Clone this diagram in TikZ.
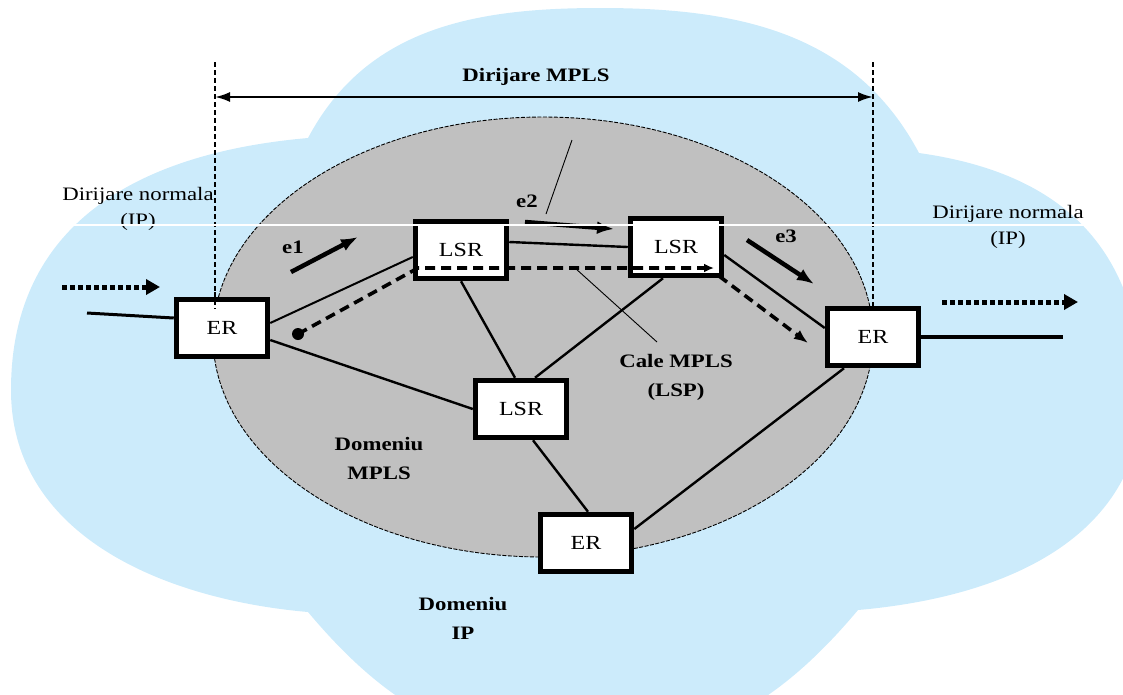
\documentclass[tikz,border=0pt]{standalone}
\usepackage{fontspec}
\setmainfont{Liberation Serif}[FakeStretch=1.2]
\usetikzlibrary{arrows.meta,calc}
\definecolor{cloudblue}{RGB}{204,235,251}
\definecolor{domgray}{RGB}{192,192,192}
\begin{document}
\begin{tikzpicture}[x=1pt,y=-1pt,
  router/.style={draw=black,line width=5.5pt,fill=white,minimum width=91pt,minimum height=57pt,inner sep=0pt,font=\fontsize{20}{22}\selectfont},
  link/.style={line width=2.4pt},
  thinlead/.style={line width=0.9pt},
  lsp/.style={line width=3.6pt,dash pattern=on 10pt off 6pt},
  flow/.style={line width=4.5pt,-{Latex[length=17pt,width=13pt]}},
  dotflow/.style={line width=5pt,dash pattern=on 5pt off 3pt,-{Triangle[length=14pt,width=15pt]}},
  guide/.style={line width=1.3pt,dash pattern=on 5pt off 3pt},
  lbl/.style={font=\fontsize{19}{29}\selectfont\bfseries,align=center},
  nlbl/.style={font=\fontsize{19}{26}\selectfont,align=center}]
\path[use as bounding box] (0,0) rectangle (1123,694);
\clip (0,0) rectangle (1123,694);
% cloud (Domeniu IP)
\fill[cloudblue] (308,138)
  to[out=62,in=180] (600,8)
  to[out=0,in=118] (919,153)
  to[out=-8,in=95,looseness=1.1] (1142,370)
  to[out=-85,in=5,looseness=1.1] (858,610)
  to[out=-130,in=0] (580,750)
  to[out=180,in=-50] (308,612)
  to[out=175,in=-90] (11,390)
  to[out=90,in=185,looseness=1.1] cycle;
% MPLS domain
\draw[fill=domgray,line width=0.9pt,dash pattern=on 4pt off 1.5pt] (543,337) ellipse [x radius=330, y radius=220];
% routers
\node[router] (erl) at (222,328) {ER};
\node[router] (lsr1) at (461,250) {LSR};
\node[router] (lsr2) at (676,247) {LSR};
\node[router] (err) at (873,337) {ER};
\node[router] (lsrm) at (521,409) {LSR};
\node[router] (erb) at (586,543) {ER};
% guides
\coordinate (gl) at (215,62);
\coordinate (glb) at (215,309);
\coordinate (gr) at (873,62);
\draw[guide] (gl) -- (glb);
\draw[guide] (gr) -- (err.north);
\coordinate (al) at (215,97);
\coordinate (ar) at (873,97);
\draw[line width=2.2pt,{Latex[length=15pt,width=10pt]}-{Latex[length=15pt,width=10pt]}] (al) -- (ar);
\node[lbl] (dmpls) at (536,77) {Dirijare MPLS};
% links
\draw[link,line width=2pt] ($(erl.east)+(0pt,5pt)$) -- ($(lsr1.west)+(0pt,-7pt)$);
\draw[link] ($(erl.east)+(0pt,-12pt)$) -- (lsrm.west);
\draw[link] (lsr1.south) -- ($(lsrm.north)+(-6pt,0pt)$);
\draw[link] ($(lsr1.east)+(0pt,8pt)$) -- (lsr2.west);
\draw[link] ($(lsr2.south)+(-13pt,0pt)$) -- ($(lsrm.north)+(14pt,0pt)$);
\draw[link] ($(lsr2.east)+(0pt,-8pt)$) -- ($(err.west)+(0pt,9pt)$);
\draw[link] ($(lsrm.south)+(12pt,0pt)$) -- ($(erb.north)+(2pt,0pt)$);
\draw[link] ($(erb.east)+(0pt,14pt)$) -- ($(err.south)+(-29pt,0pt)$);
\coordinate (inl) at (87,313);
\draw[link,line width=3pt] (inl) -- ($(erl.west)+(0pt,10pt)$);
\coordinate (outr) at (1063,337);
\draw[link,line width=3.6pt] (err.east) -- (outr);
% redraw routers on top of links
\node[router] at (erl) {ER};
\node[router] at (lsr1) {LSR};
\node[router] at (lsr2) {LSR};
\node[router] at (err) {ER};
\node[router] at (lsrm) {LSR};
\node[router] at (erb) {ER};
\draw[guide] (215,292) -- (glb);
% LSP path
\coordinate (lspa) at (298,334);
\coordinate (lspb) at (418,268);
\coordinate (lspc) at (714,268);
\coordinate (lspd) at (719,276);
\coordinate (lspe) at (808,343);
\fill (lspa) circle (6pt);
\draw[lsp,-{Latex[length=10pt,width=9pt]}] (lspa) -- (lspb) -- (lspc);
\draw[lsp,-{Latex[length=14pt,width=11pt]}] (lspd) -- (lspe);
% leader lines
\coordinate (ldA) at (572,140);
\coordinate (ldB) at (546,214);
\draw[thinlead] (ldA) -- (ldB);
\coordinate (ldC) at (575,268);
\coordinate (ldD) at (657,342);
\draw[thinlead] (ldC) -- (ldD);
% flow arrows
\coordinate (e1a) at (291,272); \coordinate (e1b) at (358,237);
\coordinate (e2a) at (525,222); \coordinate (e2b) at (614,229);
\coordinate (e3a) at (747,240); \coordinate (e3b) at (814,284);
\draw[flow] (e1a) -- (e1b);
\draw[flow] (e2a) -- (e2b);
\draw[flow] (e3a) -- (e3b);
\node[lbl] (le1) at (293,247) {e1};
\node[lbl] (le2) at (527,201) {e2};
\node[lbl] (le3) at (786,236) {e3};
% dotted IP flows
\coordinate (dl1) at (62,287); \coordinate (dl2) at (160,287);
\coordinate (dr1) at (942,302); \coordinate (dr2) at (1078,302);
\draw[dotflow] (dl1) -- (dl2);
\draw[dotflow] (dr1) -- (dr2);
% labels
\node[nlbl] (nl) at (138,209) {Dirijare normala\\(IP)};
\node[nlbl] (nr) at (1008,227) {Dirijare normala\\(IP)};
\node[lbl] (cale) at (676,377) {Cale MPLS\\(LSP)};
\node[lbl] (dm) at (379,458) {Domeniu\\MPLS};
\node[lbl] (dip) at (463,618) {Domeniu\\IP};
% scan line artifact
\draw[white,line width=1.1pt] (0,225) -- (1123,225);
\end{tikzpicture}
\end{document}
